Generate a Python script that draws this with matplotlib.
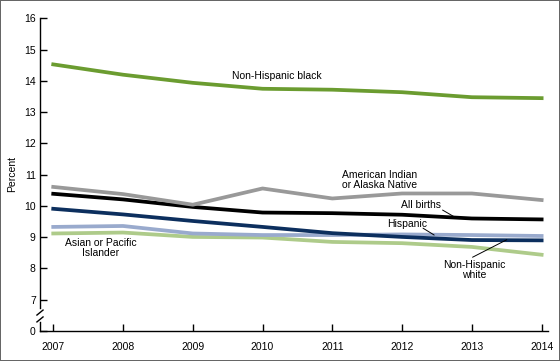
import matplotlib
matplotlib.use('Agg')
import matplotlib.pyplot as plt

plt.rcParams['font.family'] = ['Liberation Sans', 'DejaVu Sans']

years = [2007, 2008, 2009, 2010, 2011, 2012, 2013, 2014]
nh_black = [14.53, 14.2, 13.94, 13.75, 13.72, 13.64, 13.48, 13.45]
aian = [10.61, 10.38, 10.04, 10.56, 10.24, 10.40, 10.40, 10.19]
all_births = [10.39, 10.21, 9.97, 9.79, 9.77, 9.72, 9.60, 9.57]
nh_white = [9.91, 9.73, 9.52, 9.33, 9.13, 9.01, 8.91, 8.90]
hispanic = [9.33, 9.36, 9.12, 9.07, 9.07, 9.09, 9.07, 9.04]
api = [9.12, 9.15, 9.01, 8.99, 8.85, 8.81, 8.69, 8.44]

ytick_vals = [6, 7, 8, 9, 10, 11, 12, 13, 14, 15, 16]
ytick_labels = ['0', '7', '8', '9', '10', '11', '12', '13', '14', '15', '16']

fig = plt.figure(figsize=(5.6, 3.61), dpi=100, linewidth=1.2, edgecolor='#666666')
ax = fig.add_axes([0.0714, 0.0831, 0.907, 0.8684])

lw = 2.7
ax.plot(years, api, color='#aecb8a', lw=lw, solid_joinstyle='round')
ax.plot(years, hispanic, color='#99aacd', lw=lw, solid_joinstyle='round')
ax.plot(years, nh_white, color='#0c2f5e', lw=lw, solid_joinstyle='round')
ax.plot(years, all_births, color='black', lw=lw, solid_joinstyle='round')
ax.plot(years, aian, color='#999999', lw=lw, solid_joinstyle='round')
ax.plot(years, nh_black, color='#6b9c30', lw=lw, solid_joinstyle='round')

ax.set_xlim(2006.81, 2014.09)
ax.set_ylim(6, 16.03)
ax.set_xticks(years)
ax.set_yticks(ytick_vals)
ax.set_yticklabels(ytick_labels)
ax.tick_params(direction='in', length=5, width=1, labelsize=7.5, colors='black')
ax.tick_params(axis='x', pad=8)
ax.tick_params(axis='y', pad=3)
for s in ['top', 'right']:
    ax.spines[s].set_visible(False)
ax.spines['left'].set_bounds(6.73, 16.03)
ax.spines['bottom'].set_linewidth(1)
ax.spines['left'].set_linewidth(1)

# axis break
tr = ax.get_yaxis_transform()
ax.plot([0, 0], [6, 6.29], color='black', lw=1, transform=tr, clip_on=False)
ax.plot([-0.006, 0.006], [6.51, 6.67], color='black', lw=1, transform=tr, clip_on=False)
ax.plot([-0.006, 0.006], [6.29, 6.45], color='black', lw=1, transform=tr, clip_on=False)

ax.set_ylabel('Percent', fontsize=7.5, labelpad=5)

fs = 7.5
line = dict(arrowstyle='-', color='black', lw=0.7, shrinkA=0, shrinkB=0)
ax.text(2010.2, 14.15, 'Non-Hispanic black', fontsize=fs, ha='center', va='center')
ax.text(2011.68, 10.84, 'American Indian\nor Alaska Native', fontsize=fs, ha='center', va='center',
        linespacing=1.0)
ax.text(2012.27, 10.02, 'All births', fontsize=fs, ha='center', va='center')
ax.annotate('', xy=(2012.75, 9.65), xytext=(2012.58, 9.87), arrowprops=line)
ax.text(2012.07, 9.43, 'Hispanic', fontsize=fs, ha='center', va='center')
ax.annotate('', xy=(2012.46, 9.07), xytext=(2012.30, 9.29), arrowprops=line)
ax.text(2013.03, 7.96, 'Non-Hispanic\nwhite', fontsize=fs, ha='center', va='center',
        linespacing=1.0)
ax.annotate('', xy=(2013.5, 8.92), xytext=(2013.01, 8.36), arrowprops=line)
ax.text(2007.68, 8.65, 'Asian or Pacific\nIslander', fontsize=fs, ha='center', va='center',
        linespacing=1.0)

fig.savefig('out.png', dpi=100)
